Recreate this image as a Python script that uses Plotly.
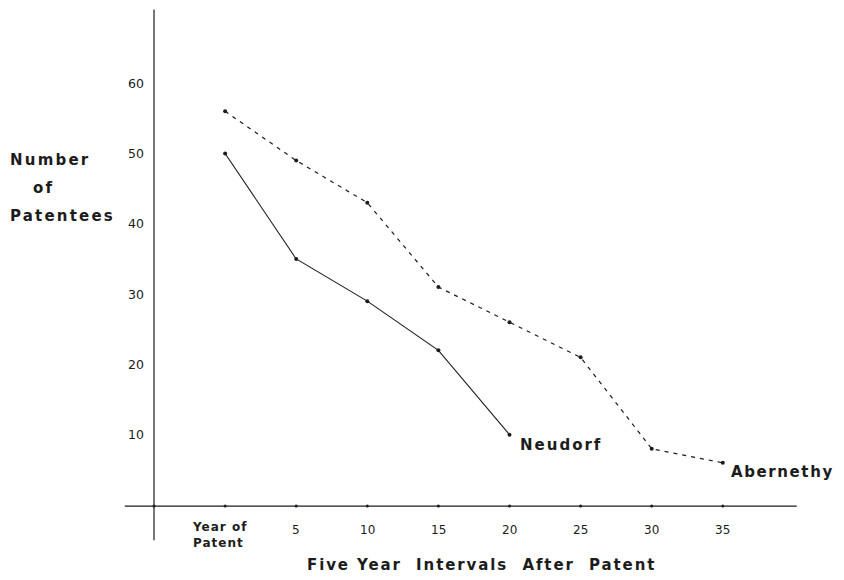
import plotly.graph_objects as go

# ---- data ----
interval_labels = ["Year of<br>Patent", "5", "10", "15", "20", "25", "30", "35"]
interval_index = [1, 2, 3, 4, 5, 6, 7, 8]
abernethy = [56, 49, 43, 31, 26, 21, 8, 6]
neudorf = [50, 35, 29, 22, 10]
y_ticks = [10, 20, 30, 40, 50, 60]

# page has an 8px body margin; figure sized to fit the window
OFF = 8
W, H = 844 - OFF, 580 - OFF
INK = "#1c1c1c"
BOLD = "DejaVu Sans"
REG = "DejaVu Sans"

fig = go.Figure()

# axes (drawn as lines in data space)
fig.add_shape(type="line", x0=0, x1=0, y0=-5.0, y1=70.5, line=dict(color=INK, width=1.2))
fig.add_shape(type="line", x0=-0.41, x1=9.04, y0=-0.15, y1=-0.15, line=dict(color=INK, width=1.2))

# tick dots along x axis
fig.add_trace(go.Scatter(
    x=[0] + interval_index, y=[-0.15] * (len(interval_index) + 1),
    mode="markers", marker=dict(size=3, color=INK), showlegend=False, hoverinfo="skip"))

# series
fig.add_trace(go.Scatter(
    x=interval_index, y=abernethy, mode="lines+markers", name="Abernethy",
    line=dict(color=INK, width=1.2, dash="4px,5px"),
    marker=dict(size=4, color=INK), showlegend=False))
fig.add_trace(go.Scatter(
    x=interval_index[:len(neudorf)], y=neudorf, mode="lines+markers", name="Neudorf",
    line=dict(color=INK, width=1.1),
    marker=dict(size=4, color=INK), showlegend=False))

def spaced(t, s):
    return f'<span style="letter-spacing:{s}px">{t}</span>'

ann = []
# y tick labels
for v in y_ticks:
    ann.append(dict(x=-0.11, y=v, xref="x", yref="y", text=str(v), showarrow=False,
                    xanchor="right", yanchor="middle",
                    font=dict(family=REG, size=12.5, color=INK)))
# x tick labels
for i, lab in zip(interval_index, interval_labels):
    if "<br>" in lab:
        ann.append(dict(x=i, y=-4.3, xref="x", yref="y", text=spaced(lab, 1),
                        showarrow=False, xanchor="center", yanchor="middle", align="left",
                        xshift=-6,
                        font=dict(family=BOLD, size=12, color=INK, weight="bold")))
    else:
        ann.append(dict(x=i, y=-3.6, xref="x", yref="y", text=lab, showarrow=False,
                        xanchor="center", yanchor="middle",
                        font=dict(family=REG, size=12, color=INK)))

# series labels (placed at the end of each line)
ann.append(dict(x=interval_index[len(neudorf) - 1], y=neudorf[-1], xref="x", yref="y",
                text=spaced("Neudorf", 2), showarrow=False, xanchor="left", yanchor="middle",
                xshift=8, yshift=-10,
                font=dict(family=BOLD, size=15, color=INK, weight="bold")))
ann.append(dict(x=interval_index[-1], y=abernethy[-1], xref="x", yref="y",
                text=spaced("Abernethy", 1.6), showarrow=False, xanchor="left", yanchor="middle",
                xshift=6, yshift=-9,
                font=dict(family=BOLD, size=15, color=INK, weight="bold")))

# axis titles (positions in window pixels, converted to paper)
def px(xp, yp):
    return (xp - OFF) / W, 1 - (yp - OFF) / H

for txt, xp, yp in [("Number", 8, 160), ("of", 31, 188), ("Patentees", 8, 216)]:
    ax, ay = px(xp, yp)
    ann.append(dict(x=ax, y=ay, xref="paper", yref="paper", text=spaced(txt, 2.2),
                    showarrow=False, xanchor="left", yanchor="middle",
                    font=dict(family=BOLD, size=15, color=INK, weight="bold")))
ax, ay = px(481, 565)
ann.append(dict(x=ax, y=ay, xref="paper", yref="paper",
                text=spaced("Five Year&nbsp; Intervals&nbsp; After&nbsp; Patent", 1.9),
                showarrow=False, xanchor="center", yanchor="middle",
                font=dict(family=BOLD, size=15, color=INK, weight="bold")))

x_unit = 71.1
y_unit = 7.03
x0_px, y0_px = 154 - OFF, 505 - OFF
fig.update_layout(
    width=W, height=H,
    margin=dict(l=0, r=0, t=0, b=0),
    paper_bgcolor="white", plot_bgcolor="white",
    xaxis=dict(range=[-x0_px / x_unit, (W - x0_px) / x_unit], visible=False, fixedrange=True),
    yaxis=dict(range=[-(H - y0_px) / y_unit, y0_px / y_unit], visible=False, fixedrange=True),
    annotations=ann,
    showlegend=False,
)

fig.write_html("out.html")
